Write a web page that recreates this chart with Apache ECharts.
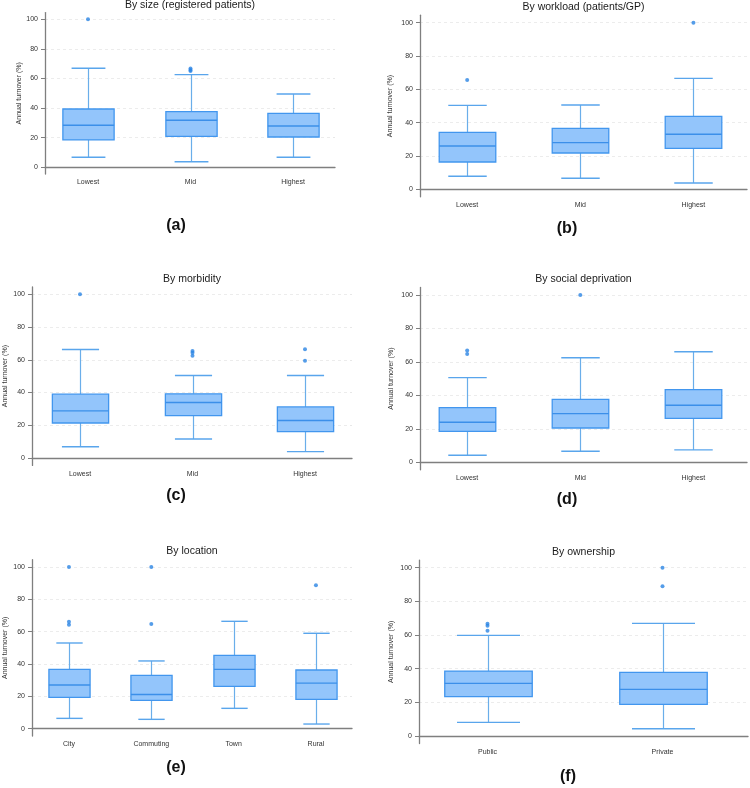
<!DOCTYPE html>
<html>
<head>
<meta charset="utf-8">
<title>Annual turnover box plots</title>
<script src="https://cdn.jsdelivr.net/npm/echarts@6/dist/echarts.min.js"></script>
<style>
  html, body { margin: 0; padding: 0; background: #fff; }
  #main { width: 750px; height: 788px; }
</style>
</head>
<body>
<div id="main"></div>
<script>
// ---- data: [lower whisker, Q1, median, Q3, upper whisker], outliers as [category index, value]
var sizeCats = ['Lowest', 'Mid', 'Highest'];
var sizeBoxes = [[6.8, 18.5, 28.4, 39.4, 66.9], [3.8, 20.9, 31.8, 37.6, 62.6], [6.8, 20.5, 27.9, 36.5, 49.5]];
var sizeOutliers = [[0, 100], [1, 66.7], [1, 65.8], [1, 65]];

var workloadCats = ['Lowest', 'Mid', 'Highest'];
var workloadBoxes = [[7.8, 16.4, 26, 34.2, 50.4], [6.6, 21.8, 28, 36.6, 50.6], [3.8, 24.6, 33, 43.8, 66.6]];
var workloadOutliers = [[0, 65.6], [2, 100]];

var morbidityCats = ['Lowest', 'Mid', 'Highest'];
var morbidityBoxes = [[6.9, 21.4, 28.8, 39, 66.3], [11.6, 25.9, 33.9, 39.2, 50.4], [3.9, 16.1, 22.9, 31.2, 50.4]];
var morbidityOutliers = [[0, 100], [1, 65.3], [1, 64.3], [1, 62.5], [2, 66.5], [2, 59.4]];

var deprivationCats = ['Lowest', 'Mid', 'Highest'];
var deprivationBoxes = [[4.2, 18.5, 23.9, 32.7, 50.6], [6.6, 20.5, 29.1, 37.6, 62.5], [7.4, 26.3, 34.1, 43.4, 66.1]];
var deprivationOutliers = [[0, 66.9], [0, 64.7], [1, 100]];

var locationCats = ['City', 'Commuting', 'Town', 'Rural'];
var locationBoxes = [[6.4, 19.4, 27, 36.7, 53], [5.8, 17.5, 21.2, 33, 41.9], [12.6, 26.2, 36.7, 45.4, 66.4], [2.9, 18.1, 28.2, 36.3, 59]];
var locationOutliers = [[0, 100], [0, 66.2], [0, 64.3], [1, 100], [1, 64.7], [3, 88.7]];

var ownershipCats = ['Public', 'Private'];
var ownershipBoxes = [[8.1, 23.4, 31.3, 38.6, 59.8], [4.3, 18.8, 27.7, 37.8, 66.9]];
var ownershipOutliers = [[0, 66.7], [0, 65.5], [0, 62.6], [1, 100], [1, 88.9]];

var yTicks = [0, 20, 40, 60, 80, 100];

// ---- panel layout
var panels = [
  { title: 'By size (registered patients)', tag: '(a)', cats: sizeCats, boxes: sizeBoxes, outliers: sizeOutliers,
    frame: [45, 335, 12.6, 174], band: [36.75, 307.5], titleY: 6, nameGap: 21, tagPos: [176, 228], cap: 0.33 },
  { title: 'By workload (patients/GP)', tag: '(b)', cats: workloadCats, boxes: workloadBoxes, outliers: workloadOutliers,
    frame: [420, 747, 15.2, 196.8], band: [410.6, 346.2], titleY: 7.3, nameGap: 26, tagPos: [567, 231], cap: 0.34 },
  { title: 'By morbidity', tag: '(c)', cats: morbidityCats, boxes: morbidityBoxes, outliers: morbidityOutliers,
    frame: [32, 352, 286.9, 465.4], band: [23.75, 337.5], titleY: 279.3, nameGap: 23, tagPos: [176, 498], cap: 0.33 },
  { title: 'By social deprivation', tag: '(d)', cats: deprivationCats, boxes: deprivationBoxes, outliers: deprivationOutliers,
    frame: [420, 747, 287.5, 469.8], band: [410.6, 346.2], titleY: 280, nameGap: 25, tagPos: [567, 502], cap: 0.34 },
  { title: 'By location', tag: '(e)', cats: locationCats, boxes: locationBoxes, outliers: locationOutliers,
    frame: [32, 352, 559.7, 736], band: [27.8, 329.3], titleY: 552, nameGap: 23.5, tagPos: [176, 770], cap: 0.32 },
  { title: 'By ownership', tag: '(f)', cats: ownershipCats, boxes: ownershipBoxes, outliers: ownershipOutliers,
    frame: [419, 748, 560.1, 743.6], band: [400, 368], titleY: 552.7, nameGap: 24.5, tagPos: [568, 779], cap: 0.36 }
];

var FONT = '"Liberation Sans", Arial, sans-serif';
var AXIS_GRAY = '#7f7f7f';

// 画箱体：须线、端帽、箱子、中位线
function makeRenderBox(capRatio) {
  return function (params, api) {
    var idx = api.value(0);
    var band = api.size([1, 0])[0];
    var halfBox = band * 0.25;
    var halfCap = band * capRatio / 2;
    var x = Math.round(api.coord([idx, 0])[0]) + 0.5;
    var yLow = api.coord([idx, api.value(1)])[1];
    var yQ1 = api.coord([idx, api.value(2)])[1];
    var yMed = api.coord([idx, api.value(3)])[1];
    var yQ3 = api.coord([idx, api.value(4)])[1];
    var yHigh = api.coord([idx, api.value(5)])[1];
    var whisker = { stroke: '#6aaeea', lineWidth: 1.2 };
    var capStyle = { stroke: '#59a5ec', lineWidth: 1.4 };
    return {
      type: 'group',
      children: [
        { type: 'line', shape: { x1: x, y1: yLow, x2: x, y2: yQ1 }, style: whisker },
        { type: 'line', shape: { x1: x, y1: yQ3, x2: x, y2: yHigh }, style: whisker },
        { type: 'line', shape: { x1: x - halfCap, y1: yLow, x2: x + halfCap, y2: yLow }, style: capStyle },
        { type: 'line', shape: { x1: x - halfCap, y1: yHigh, x2: x + halfCap, y2: yHigh }, style: capStyle },
        { type: 'rect', shape: { x: x - halfBox, y: yQ3, width: halfBox * 2, height: yQ1 - yQ3 },
          style: { fill: '#93c5fb', stroke: '#4296ee', lineWidth: 1.3 } },
        { type: 'line', shape: { x1: x - halfBox, y1: yMed, x2: x + halfBox, y2: yMed },
          style: { stroke: '#3b8fe9', lineWidth: 1.4 } }
      ]
    };
  };
}

var option = {
  backgroundColor: '#ffffff',
  animation: false,
  title: [],
  grid: [],
  xAxis: [],
  yAxis: [],
  series: []
};

panels.forEach(function (p, i) {
  var left = p.frame[0], right = p.frame[1], top = p.frame[2], bottom = p.frame[3];
  var frameGrid = i * 2, dataGrid = i * 2 + 1;

  option.title.push({
    text: p.title, left: (left + right) / 2, top: p.titleY - 6, padding: 0, textAlign: 'center',
    textStyle: { fontFamily: FONT, fontSize: 10.5, fontWeight: 'normal', color: '#1a1a1a' }
  });
  option.title.push({
    text: p.tag, left: p.tagPos[0], top: p.tagPos[1] - 10, padding: 0, textAlign: 'center',
    textStyle: { fontFamily: FONT, fontSize: 16, fontWeight: 'bold', color: '#111' }
  });

  // 外框坐标系：y 轴刻度、网格线、x 轴线
  option.grid.push({ left: left, top: top, width: right - left, height: bottom - top });
  // 数据坐标系：类目位置与箱体
  option.grid.push({ left: p.band[0], top: top, width: p.band[1], height: bottom - top });

  option.xAxis.push({
    type: 'value', gridIndex: frameGrid, min: 0, max: 1,
    axisLine: { show: true, lineStyle: { color: AXIS_GRAY, width: 1.3 } },
    axisTick: { show: false }, axisLabel: { show: false }, splitLine: { show: false }
  });
  option.xAxis.push({
    type: 'category', gridIndex: dataGrid, data: p.cats, boundaryGap: true,
    axisLine: { show: false }, axisTick: { show: false },
    axisLabel: { margin: 5, fontFamily: FONT, fontSize: 7, color: '#333' },
    splitLine: { show: false }
  });

  option.yAxis.push({
    type: 'value', gridIndex: frameGrid, min: -4.5, max: 104.5,
    name: 'Annual turnover (%)', nameLocation: 'middle', nameGap: p.nameGap,
    nameTextStyle: { fontFamily: FONT, fontSize: 7, color: '#333' },
    axisLine: { show: true, lineStyle: { color: AXIS_GRAY, width: 1.3 } },
    axisTick: { show: true, length: 4, customValues: yTicks, lineStyle: { color: AXIS_GRAY } },
    axisLabel: { customValues: yTicks, margin: 7, fontFamily: FONT, fontSize: 7, color: '#333' },
    splitLine: { show: true, lineStyle: { color: '#e8e8e8', type: [3, 3], width: 0.8 } }
  });
  option.yAxis.push({
    type: 'value', gridIndex: dataGrid, min: -4.5, max: 104.5, show: false
  });

  option.series.push({
    type: 'custom', xAxisIndex: dataGrid, yAxisIndex: dataGrid,
    renderItem: makeRenderBox(p.cap),
    encode: { x: 0, y: [1, 2, 3, 4, 5] },
    data: p.boxes.map(function (b, k) { return [k].concat(b); }),
    silent: true, z: 2
  });
  option.series.push({
    type: 'scatter', xAxisIndex: dataGrid, yAxisIndex: dataGrid,
    data: p.outliers, symbol: 'circle', symbolSize: 4,
    itemStyle: { color: '#2a84e4' }, silent: true, z: 3
  });
});

var chart = echarts.init(document.getElementById('main'), null, { renderer: 'canvas' });
chart.setOption(option);
</script>
</body>
</html>
